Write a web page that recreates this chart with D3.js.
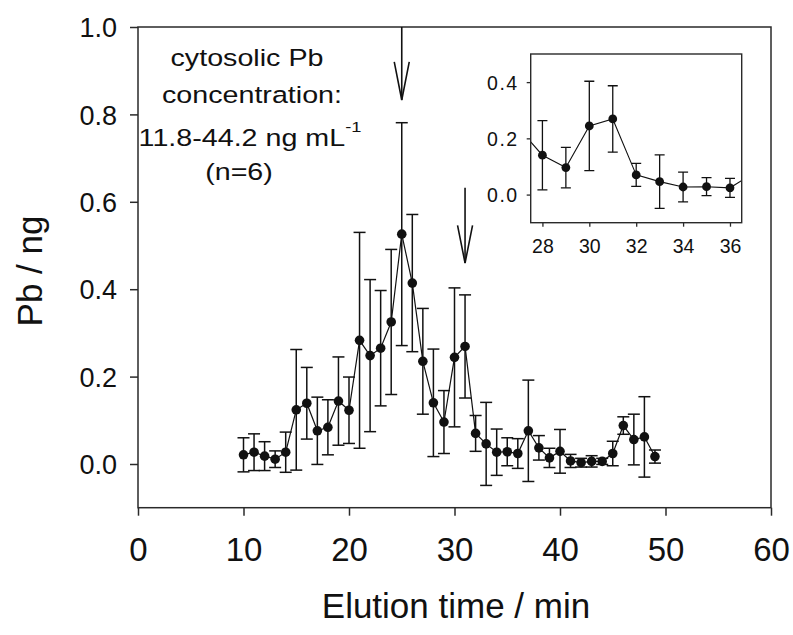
<!DOCTYPE html>
<html><head><meta charset="utf-8">
<script src="https://cdn.jsdelivr.net/npm/d3@7"></script>
<style>
body{margin:0;background:#fff}
text{font-family:"Liberation Sans",Arial,Helvetica,sans-serif;fill:#111}
</style>
</head><body>
<svg id="c" width="793" height="635"></svg>
<script>
// ---- data ----
const times = [10,11,12,13,14,15,16,17,18,19,20,21,22,23,24,25,26,27,28,29,
               30,31,32,33,34,35,36,37,38,39,40,41,42,43,44,45,46,47,48,49];
const pbMean = [0.021,0.027,0.018,0.011,0.027,0.124,0.139,0.076,0.084,0.144,
                0.123,0.283,0.248,0.265,0.325,0.526,0.414,0.235,0.140,0.096,
                0.244,0.269,0.070,0.046,0.027,0.028,0.024,0.076,0.037,0.014,
                0.029,0.007,0.003,0.006,0.006,0.024,0.088,0.056,0.062,0.017];
const pbSD   = [0.039,0.042,0.033,0.019,0.046,0.138,0.082,0.077,0.063,0.101,
                0.076,0.247,0.174,0.132,0.166,0.255,0.157,0.121,0.123,0.072,
                0.159,0.118,0.041,0.095,0.053,0.032,0.034,0.116,0.028,0.022,
                0.050,0.015,0.010,0.013,0.007,0.028,0.020,0.058,0.092,0.015];
const xTicks = [0,10,20,30,40,50,60];
const yTicks = [0.0,0.2,0.4,0.6,0.8,1.0];
const insetXTicks = [28,30,32,34,36];
const insetYTicks = [0.0,0.2,0.4];
const arrowTimes = [25,31];
const arrowFrom  = [1.0,0.632];
const arrowTo    = [0.833,0.46];
const arrowHead  = [0.92,0.546];
const noteLines = ["cytosolic Pb","concentration:","11.8-44.2 ng mL","(n=6)"];

const data = times.map((t,i)=>({t, v:pbMean[i], sd:pbSD[i]}));

const svg = d3.select("#c");
const ink = "#111", frame = "#2a2a2a";

// ---- main plot ----
const x = d3.scaleLinear().domain([0,60]).range([138,771]);
const y = d3.scaleLinear().domain([-0.1,1.0]).range([507.7,27]);

const gx = svg.append("g").attr("transform",`translate(0,${y(-0.1)})`)
  .call(d3.axisBottom(x).tickValues(xTicks).tickSize(8).tickPadding(22).tickFormat(d3.format("d")));
gx.select(".domain").remove();
gx.selectAll(".tick line").attr("stroke",frame).attr("stroke-width",1.5);
gx.selectAll("text").attr("font-size",33).attr("fill",ink).attr("dy","0.72em")
  .style("font-family",'"Liberation Sans",Arial,sans-serif');

const gy = svg.append("g").attr("transform",`translate(${x(0)},0)`)
  .call(d3.axisLeft(y).tickValues(yTicks).tickSize(8).tickPadding(13).tickFormat(d3.format(".1f")));
gy.select(".domain").remove();
gy.selectAll(".tick line").attr("stroke",frame).attr("stroke-width",1.5);
gy.selectAll("text").attr("font-size",27).attr("fill",ink).attr("dy","0.36em")
  .style("font-family",'"Liberation Sans",Arial,sans-serif');

svg.append("rect").attr("x",x(0)).attr("y",y(1.0))
  .attr("width",x(60)-x(0)).attr("height",y(-0.1)-y(1.0))
  .attr("fill","none").attr("stroke",frame).attr("stroke-width",1.5);

// error bars
const cap = 6;
const eb = svg.append("g").attr("stroke",ink).attr("stroke-width",1.5);
data.forEach(d=>{
  const xx = x(d.t), y1 = y(d.v+d.sd), y0 = y(d.v-d.sd);
  eb.append("line").attr("x1",xx).attr("x2",xx).attr("y1",y1).attr("y2",y0);
  eb.append("line").attr("x1",xx-cap).attr("x2",xx+cap).attr("y1",y1).attr("y2",y1);
  eb.append("line").attr("x1",xx-cap).attr("x2",xx+cap).attr("y1",y0).attr("y2",y0);
});
svg.append("path").datum(data)
  .attr("d",d3.line().x(d=>x(d.t)).y(d=>y(d.v)))
  .attr("fill","none").attr("stroke",ink).attr("stroke-width",1.2);
svg.append("g").selectAll("circle").data(data).join("circle")
  .attr("cx",d=>x(d.t)).attr("cy",d=>y(d.v)).attr("r",4.8).attr("fill",ink);

// arrows
const ag = svg.append("g").attr("stroke",ink).attr("stroke-width",1.6).attr("fill","none");
arrowTimes.forEach((t,i)=>{
  const xx = x(t);
  ag.append("line").attr("x1",xx).attr("x2",xx).attr("y1",y(arrowFrom[i])).attr("y2",y(arrowTo[i]));
  ag.append("path").attr("d",`M${xx-7.5},${y(arrowHead[i])}L${xx},${y(arrowTo[i])}L${xx+7.5},${y(arrowHead[i])}`);
});

// axis titles
svg.append("text").attr("x",456).attr("y",618).attr("text-anchor","middle")
  .attr("font-size",35).text("Elution time / min");
svg.append("text").attr("transform","translate(42,271) rotate(-90)").attr("text-anchor","middle")
  .attr("font-size",35).text("Pb / ng");

// annotation
const noteCx = [247,252,250,239];
const noteBase = [66,103,146,180];
noteLines.forEach((s,i)=>{
  const t = svg.append("text")
    .attr("transform",`translate(${noteCx[i]},${noteBase[i]}) scale(1.22,1)`)
    .attr("text-anchor","middle").attr("font-size",23.5).text(s);
  if(i===2){
    t.append("tspan").attr("font-size",15).attr("dy",-14).text("-1");
  }
});

// ---- inset ----
const xi = d3.scaleLinear().domain([27.5,36.5]).range([530.7,741.7]);
const yi = d3.scaleLinear().domain([-0.1,0.5]).range([222.7,54]);
const ig = svg.append("g");
ig.append("clipPath").attr("id","iclip").append("rect")
  .attr("x",xi(27.5)).attr("y",yi(0.5)).attr("width",xi(36.5)-xi(27.5)).attr("height",yi(-0.1)-yi(0.5));

const gxi = ig.append("g").attr("transform",`translate(0,${yi(-0.1)})`)
  .call(d3.axisBottom(xi).tickValues(insetXTicks).tickSize(4).tickPadding(12).tickFormat(d3.format("d")));
gxi.select(".domain").remove();
gxi.selectAll(".tick line").attr("stroke",frame).attr("stroke-width",1.3);
gxi.selectAll("text").attr("font-size",19.5).attr("fill","#222").attr("dy","0.72em")
  .style("font-family",'"Liberation Sans",Arial,sans-serif');

const gyi = ig.append("g").attr("transform",`translate(${xi(27.5)},0)`)
  .call(d3.axisLeft(yi).tickValues(insetYTicks).tickSize(4).tickPadding(8).tickFormat(d3.format(".1f")));
gyi.select(".domain").remove();
gyi.selectAll(".tick line").attr("stroke",frame).attr("stroke-width",1.3);
gyi.selectAll("text").attr("font-size",19.5).attr("fill","#222").attr("dy","0.36em")
  .attr("letter-spacing",1.5)
  .style("font-family",'"Liberation Sans",Arial,sans-serif');

const inData = data.filter(d=>d.t>=27 && d.t<=37);
const inPts = data.filter(d=>d.t>=28 && d.t<=36);
const plotI = ig.append("g").attr("clip-path","url(#iclip)");
const icap = 5;
const ieb = plotI.append("g").attr("stroke",ink).attr("stroke-width",1.3);
inPts.forEach(d=>{
  const xx = xi(d.t), y1 = yi(d.v+d.sd), y0 = yi(d.v-d.sd);
  ieb.append("line").attr("x1",xx).attr("x2",xx).attr("y1",y1).attr("y2",y0);
  ieb.append("line").attr("x1",xx-icap).attr("x2",xx+icap).attr("y1",y1).attr("y2",y1);
  ieb.append("line").attr("x1",xx-icap).attr("x2",xx+icap).attr("y1",y0).attr("y2",y0);
});
plotI.append("path").datum(inData)
  .attr("d",d3.line().x(d=>xi(d.t)).y(d=>yi(d.v)))
  .attr("fill","none").attr("stroke",ink).attr("stroke-width",1.1);
plotI.append("g").selectAll("circle").data(inPts).join("circle")
  .attr("cx",d=>xi(d.t)).attr("cy",d=>yi(d.v)).attr("r",4.4).attr("fill",ink);

ig.append("rect").attr("x",xi(27.5)).attr("y",yi(0.5))
  .attr("width",xi(36.5)-xi(27.5)).attr("height",yi(-0.1)-yi(0.5))
  .attr("fill","none").attr("stroke",frame).attr("stroke-width",1.4);
</script>
</body></html>
